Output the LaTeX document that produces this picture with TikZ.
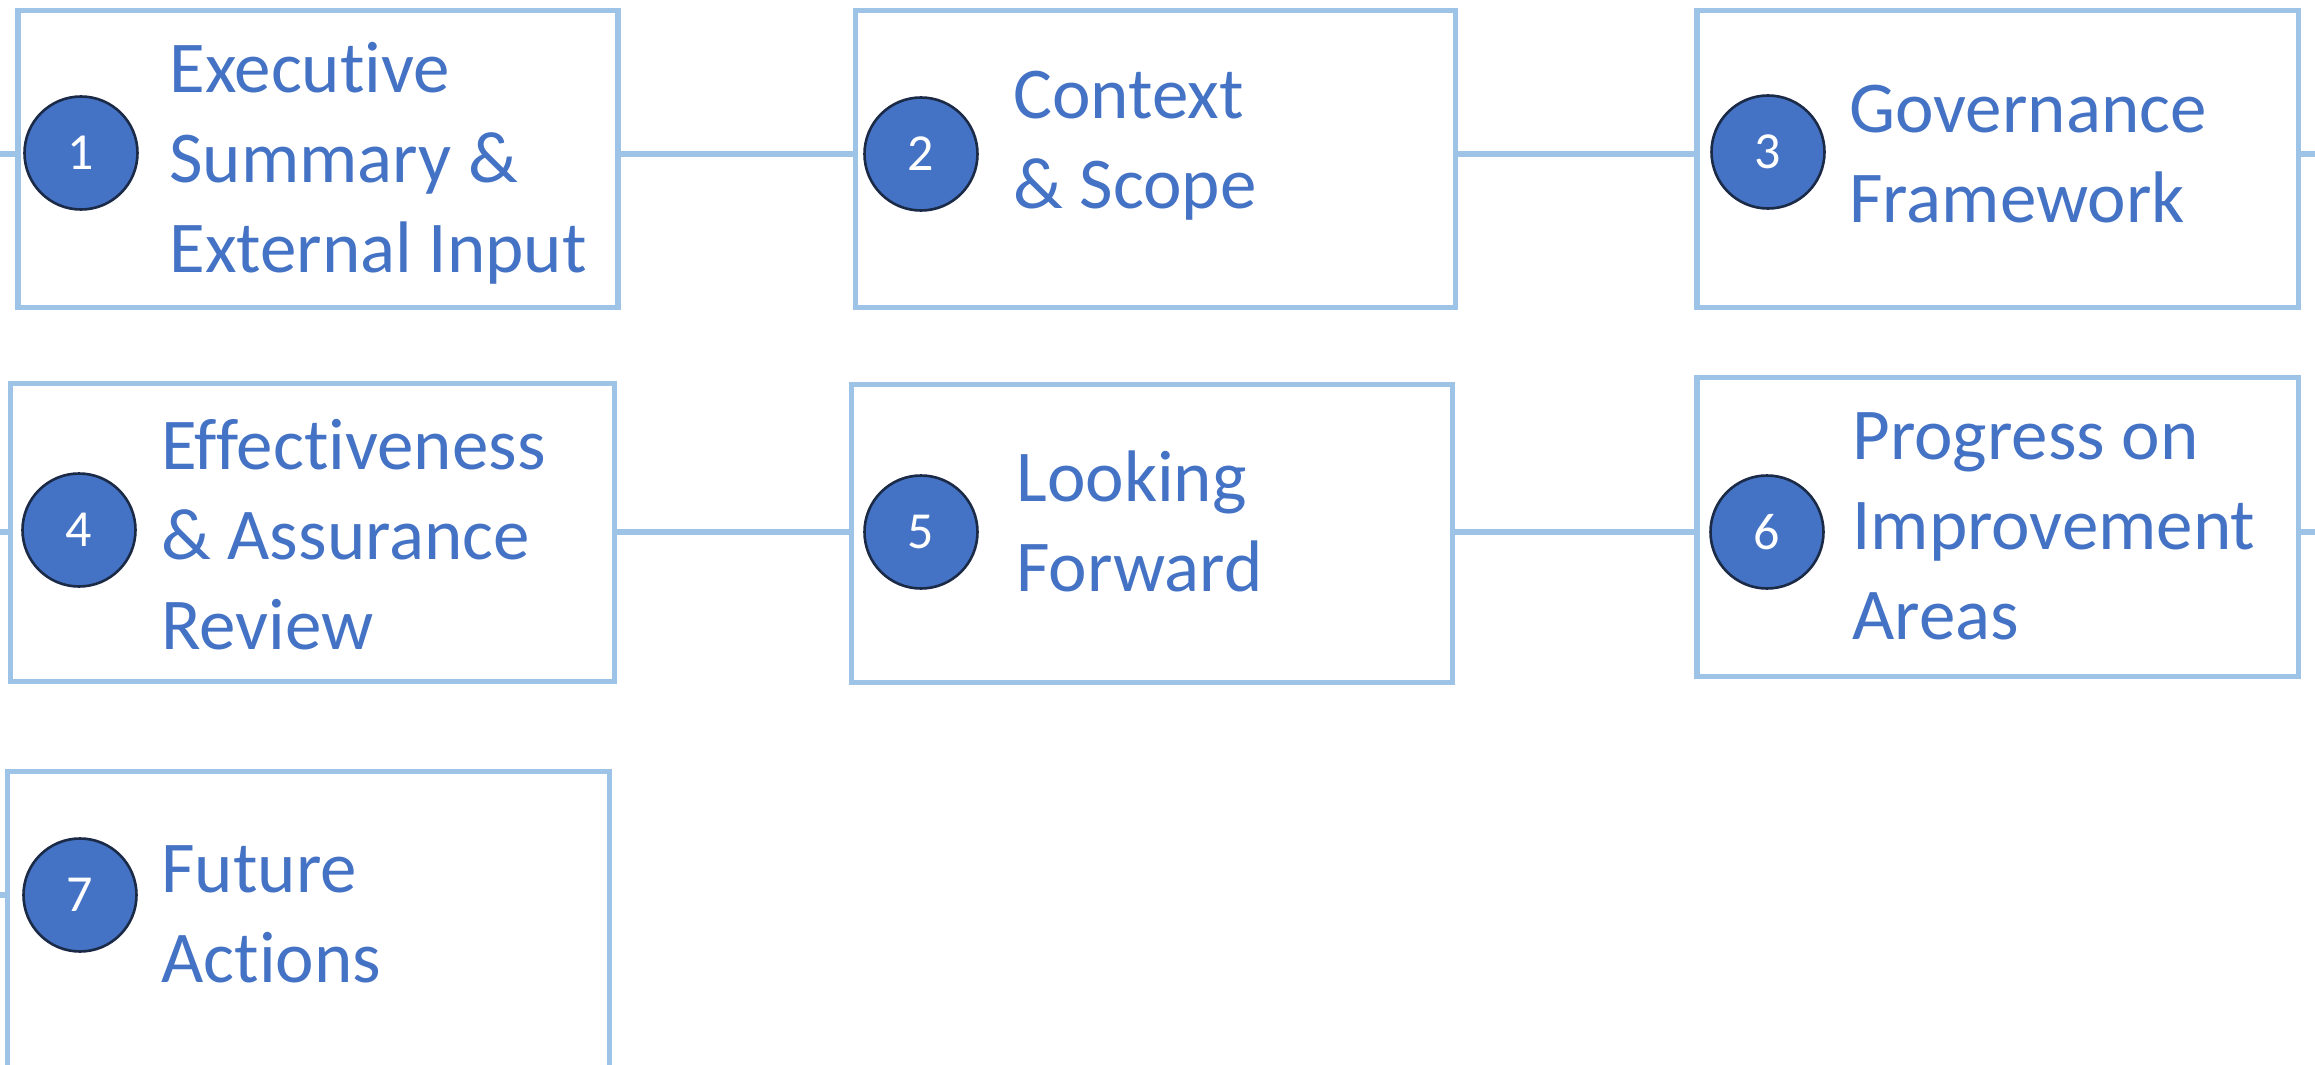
\documentclass[tikz,border=0pt]{standalone}
\usepackage{fontspec}
\setmainfont{Carlito}[Ligatures=NoCommon]
\definecolor{txtblue}{HTML}{4472C4}
\definecolor{edgeblue}{HTML}{9DC3E6}
\definecolor{ringnavy}{HTML}{1B2A47}
\begin{document}
\begin{tikzpicture}[x=0.5pt,y=-0.5pt,
  stagebox/.style={draw=edgeblue,line width=2.8pt,fill=white,rectangle,inner sep=0pt},
  badge/.style={circle,fill=txtblue,draw=ringnavy,line width=1.3pt,minimum size=56.5pt,inner sep=0pt,
    text=white,font=\fontsize{26}{26}\selectfont},
  label/.style={anchor=base west,align=left,text=txtblue,inner sep=0pt,
    font=\fontsize{36.5}{45}\selectfont},
  link/.style={draw=edgeblue,line width=2.8pt}]
\useasboundingbox (0,0) rectangle (2315,1065);
\clip (0,0) rectangle (2315,1065);

% row guide points for the connectors
\coordinate (r1l) at (0,154);
\coordinate (r1r) at (2315,154);
\coordinate (r2l) at (0,532);
\coordinate (r2r) at (2315,532);
\coordinate (r3l) at (0,895);

% stage boxes
\node[stagebox,minimum width=300pt,minimum height=148.5pt] (b1) at (318,159) {};
\node[stagebox,minimum width=300pt,minimum height=148.5pt] (b2) at (1155.5,159) {};
\node[stagebox,minimum width=300.75pt,minimum height=148.5pt] (b3) at (1997.75,159) {};
\node[stagebox,minimum width=302pt,minimum height=149pt] (b4) at (312.5,532.5) {};
\node[stagebox,minimum width=300.5pt,minimum height=149pt] (b5) at (1152,533.5) {};
\node[stagebox,minimum width=300.75pt,minimum height=149.5pt] (b6) at (1997.75,527) {};
\node[stagebox,minimum width=301pt,minimum height=152pt] (b7) at (308.5,923.5) {};

% connectors between the stages
\draw[link] (r1l) -- (b1.west |- r1l);
\draw[link] (b1.east |- r1l) -- (b2.west |- r1l);
\draw[link] (b2.east |- r1l) -- (b3.west |- r1l);
\draw[link] (b3.east |- r1l) -- (r1r);
\draw[link] (r2l) -- (b4.west |- r2l);
\draw[link] (b4.east |- r2l) -- (b5.west |- r2l);
\draw[link] (b5.east |- r2l) -- (b6.west |- r2l);
\draw[link] (b6.east |- r2l) -- (r2r);
\draw[link] (r3l) -- (b7.west |- r3l);

% numbered badges
\node[badge] (n1) at (81,153) {1};
\node[badge] (n2) at (921,154) {2};
\node[badge] (n3) at (1768,152) {3};
\node[badge] (n4) at (79,530) {4};
\node[badge] (n5) at (921,532) {5};
\node[badge] (n6) at (1767,532) {6};
\node[badge] (n7) at (80,895) {7};

% stage titles, placed by the baseline of their last line
\node[label] (t1) at (169,272) {Executive\\Summary \&\\External Input};
\node[label] (t2) at (1013,208) {Context\\\& Scope};
\node[label] (t3) at (1849,222) {Governance\\Framework};
\node[label] (t4) at (161,649) {Effectiveness\\\& Assurance\\Review};
\node[label] (t5) at (1016,591) {Looking\\Forward};
\node[label] (t6) at (1852,639) {Progress on\\Improvement\\Areas};
\node[label] (t7) at (161,982) {Future\\Actions};
\end{tikzpicture}
\end{document}
